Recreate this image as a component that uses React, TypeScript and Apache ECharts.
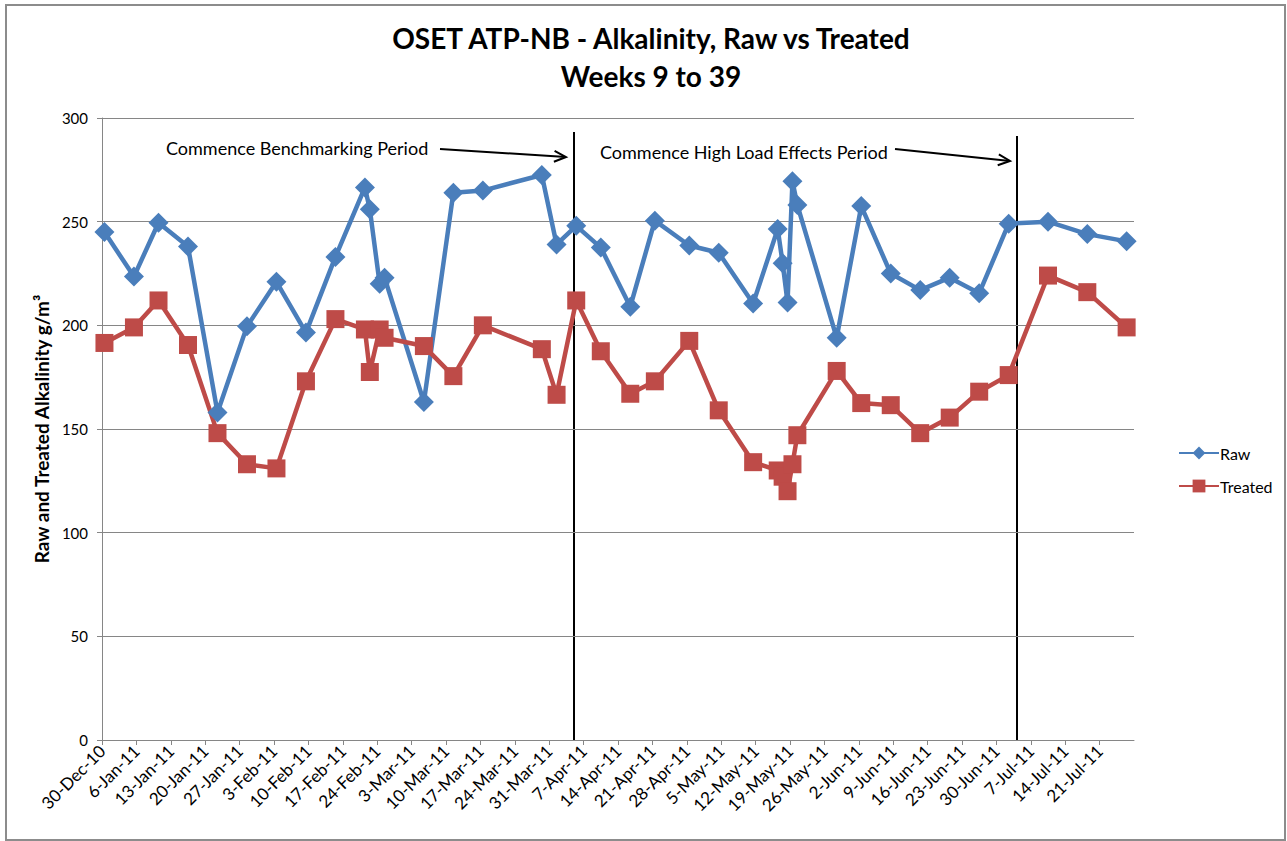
import React, { useEffect, useRef } from 'react';
import * as echarts from 'echarts';

// ---- data ----
const baseDate = '2010-12-30';
const axisEndDay = 210;
const weekDays = 7;
const monthNames = ['Jan', 'Feb', 'Mar', 'Apr', 'May', 'Jun', 'Jul', 'Aug', 'Sep', 'Oct', 'Nov', 'Dec'];

const sampleDates = [
  '2010-12-30', '2011-01-05', '2011-01-10', '2011-01-16', '2011-01-22', '2011-01-28', '2011-02-03', '2011-02-09',
  '2011-02-15', '2011-02-21', '2011-02-22', '2011-02-24', '2011-02-25', '2011-03-05', '2011-03-11', '2011-03-17',
  '2011-03-29', '2011-04-01', '2011-04-05', '2011-04-10', '2011-04-16', '2011-04-21', '2011-04-28', '2011-05-04',
  '2011-05-11', '2011-05-16', '2011-05-17', '2011-05-18', '2011-05-19', '2011-05-20', '2011-05-28', '2011-06-02',
  '2011-06-08', '2011-06-14', '2011-06-20', '2011-06-26', '2011-07-02', '2011-07-10', '2011-07-18', '2011-07-26',
];

const rawValues = [
  245, 223.5, 249.5, 238, 158, 199.5, 221, 196.5, 233, 266.5,
  256, 220, 223, 163, 264, 265, 272.5, 239, 248, 237.5,
  209, 250.5, 238.5, 235, 210.5, 246.5, 230, 211, 269.5, 258,
  194, 257.5, 225, 217, 223, 215.5, 249, 250, 244, 240.5,
];

const treatedValues = [
  191.5, 199, 212, 190.5, 148, 133, 131, 173, 203, 198,
  177.5, 198, 194, 190, 175.5, 200, 188.5, 166.5, 212, 187.5,
  167, 173, 192.5, 159, 134, 130, 127, 120, 133, 147,
  178, 162.5, 161.5, 148, 155.5, 168, 176, 224, 216, 199,
];

const seriesNames = ['Raw', 'Treated'];
const titleLines = ['OSET ATP-NB - Alkalinity, Raw vs Treated', 'Weeks 9 to 39'];
const yAxisTitle = 'Raw and Treated Alkalinity g/m³';
const noteTexts = ['Commence Benchmarking Period', 'Commence High Load Effects Period'];

const DAY_MS = 86400000;
const dayOf = (d: string) => (Date.parse(d) - Date.parse(baseDate)) / DAY_MS;
const labelOf = (day: number) => {
  const dt = new Date(Date.parse(baseDate) + Math.round(day) * DAY_MS);
  return `${dt.getUTCDate()}-${monthNames[dt.getUTCMonth()]}-${String(dt.getUTCFullYear()).slice(2)}`;
};

const FONT = 'Lato, "Open Sans", sans-serif';

function arrow(x1: number, y1: number, x2: number, y2: number, head = 13) {
  const len = Math.hypot(x2 - x1, y2 - y1);
  const ux = (x2 - x1) / len;
  const uy = (y2 - y1) / len;
  const a = (25 * Math.PI) / 180;
  const c = Math.cos(a);
  const s = Math.sin(a);
  const r1 = [c * ux - s * uy, s * ux + c * uy];
  const r2 = [c * ux + s * uy, -s * ux + c * uy];
  const style = { stroke: '#000', lineWidth: 2, fill: null };
  return [
    { type: 'line', shape: { x1, y1, x2, y2 }, style },
    {
      type: 'polyline',
      shape: {
        points: [
          [x2 - head * r1[0], y2 - head * r1[1]],
          [x2, y2],
          [x2 - head * r2[0], y2 - head * r2[1]],
        ],
      },
      style,
    },
  ];
}

export default function App() {
  const ref = useRef<HTMLDivElement>(null);
  useEffect(() => {
    if (!ref.current) return;
    const chart = echarts.init(ref.current, null, { renderer: 'svg' });
    const rawData = sampleDates.map((d, i) => [dayOf(d) + 0.5, rawValues[i]]);
    const treatedData = sampleDates.map((d, i) => [dayOf(d) + 0.5, treatedValues[i]]);

    chart.setOption({
      animation: false,
      backgroundColor: '#ffffff',
      textStyle: { fontFamily: FONT },
      title: {
        text: titleLines.join('\n'),
        left: 646,
        textAlign: 'center',
        top: 14,
        textStyle: { fontFamily: FONT, fontSize: 28, fontWeight: 'bold', color: '#000', lineHeight: 38 },
      },
      grid: { left: 102, right: 153, top: 118, bottom: 101, containLabel: false },
      legend: {
        orient: 'vertical',
        left: 1173,
        top: 440,
        itemWidth: 40,
        itemHeight: 16,
        itemGap: 17,
        data: seriesNames,
        textStyle: { fontFamily: FONT, fontSize: 16, color: '#000', padding: [0, 0, 0, -4] },
      },
      xAxis: {
        type: 'value',
        min: 0,
        max: axisEndDay,
        interval: weekDays,
        splitLine: { show: false },
        axisLine: { show: true, lineStyle: { color: '#868686', width: 1 } },
        axisTick: { show: true, length: 5, lineStyle: { color: '#868686' } },
        axisLabel: {
          rotate: 45,
          margin: 8,
          fontFamily: FONT,
          fontSize: 17,
          color: '#000',
          showMaxLabel: false,
          formatter: (v: number) => (v >= axisEndDay ? '' : labelOf(v)),
        },
      },
      yAxis: {
        type: 'value',
        min: 0,
        max: 300,
        interval: 50,
        name: yAxisTitle,
        nameLocation: 'middle',
        nameGap: 50,
        nameRotate: 90,
        nameTextStyle: { fontFamily: FONT, fontSize: 19, fontWeight: 'bold', color: '#000' },
        axisLine: { show: true, lineStyle: { color: '#868686', width: 1 } },
        axisTick: { show: true, length: 5, lineStyle: { color: '#868686' } },
        axisLabel: { fontFamily: FONT, fontSize: 15, color: '#000', margin: 14 },
        splitLine: { lineStyle: { color: '#868686', width: 1 } },
      },
      series: [
        {
          name: seriesNames[0],
          type: 'line',
          data: rawData,
          color: '#4A7EBB',
          lineStyle: { width: 4.5, color: '#4A7EBB' },
          symbol: 'diamond',
          symbolSize: 20,
          itemStyle: { color: '#4A7EBB' },
        },
        {
          name: seriesNames[1],
          type: 'line',
          data: treatedData,
          color: '#BE4B48',
          lineStyle: { width: 4.5, color: '#BE4B48' },
          symbol: 'rect',
          symbolSize: 18,
          itemStyle: { color: '#BE4B48' },
        },
      ],
      graphic: [
        { type: 'rect', shape: { x: 6, y: 5, width: 1279, height: 835 }, style: { fill: null, stroke: '#8c8c8c', lineWidth: 2 }, silent: true },
        { type: 'line', shape: { x1: 574, y1: 132, x2: 574, y2: 740 }, style: { stroke: '#000', lineWidth: 2 } },
        { type: 'line', shape: { x1: 1017, y1: 136, x2: 1017, y2: 740 }, style: { stroke: '#000', lineWidth: 2 } },
        { type: 'text', x: 166, y: 148, style: { text: noteTexts[0], font: `18px ${FONT}`, fill: '#000', textVerticalAlign: 'middle' } },
        { type: 'text', x: 600, y: 152, style: { text: noteTexts[1], font: `18px ${FONT}`, fill: '#000', textVerticalAlign: 'middle' } },
        ...arrow(440, 149, 566, 157),
        ...arrow(895, 149, 1010, 161),
      ],
    });
    return () => chart.dispose();
  }, []);
  return <div ref={ref} style={{ position: 'absolute', left: 0, top: 0, width: 1287, height: 841 }} />;
}
